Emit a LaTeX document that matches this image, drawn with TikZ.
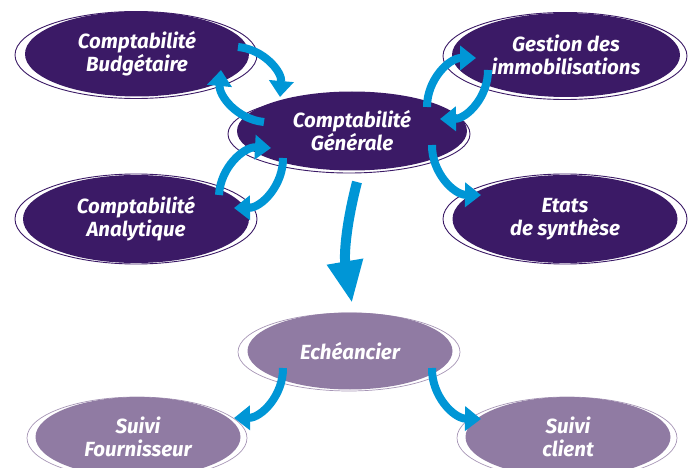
\documentclass[tikz,border=0pt]{standalone}
\usepackage{fontspec}
\setsansfont{Fira Sans}
\usetikzlibrary{shapes.geometric,arrows.meta,calc,backgrounds}
\definecolor{dpurple}{HTML}{3B1A66}
\definecolor{lpurple}{HTML}{907BA3}
\definecolor{arblue}{HTML}{0096D6}
\tikzset{
  lab/.style={font=\sffamily\bfseries\itshape\fontsize{20.5}{23}\selectfont, text=white, align=center},
  darkell/.style={ellipse, fill=dpurple, lab, inner sep=0pt},
  lightell/.style={ellipse, fill=lpurple, lab, inner sep=0pt},
  rim/.style={draw=dpurple, line width=0.9pt},
  lrim/.style={draw=lpurple!80, line width=0.7pt},
  carrow/.style={draw=arblue, line width=8pt, -{Triangle[width=24pt,length=16pt]}},
  bigarrow/.style={draw=arblue, line width=10pt, -{Triangle[width=34pt,length=42pt]}},
}
\begin{document}
\begin{tikzpicture}[x=1pt,y=-1pt]
\useasboundingbox (0,0) rectangle (694,468);
% nodes
\node[darkell, minimum width=224pt, minimum height=85pt] (cb) at (137,54) {Comptabilité\\Budgétaire};
\node[darkell, minimum width=230pt, minimum height=79pt] (cg) at (352,131) {Comptabilité\\Générale};
\node[darkell, minimum width=228pt, minimum height=84pt] (gi) at (566,55) {Gestion des\\immobilisations};
\node[darkell, minimum width=226pt, minimum height=88pt] (ca) at (136,219) {Comptabilité\\Analytique};
\node[darkell, minimum width=225pt, minimum height=88pt] (es) at (565,219) {Etats\\de synthèse};
\node[lightell, minimum width=205pt, minimum height=77pt] (ech) at (350,351) {Echéancier};
\node[lightell, minimum width=205pt, minimum height=80pt] (sf) at (138,437) {Suivi\\Fournisseur};
\node[lightell, minimum width=205pt, minimum height=80pt] (sc) at (568,437) {Suivi\\client};
% rims
\begin{scope}[on background layer]
\draw[rim] ($(cb)+(-1,1)$) ellipse [x radius=121pt, y radius=43.5pt];
\draw[rim] ($(cg)+(-3,3)$) ellipse [x radius=121pt, y radius=39pt];
\draw[rim] ($(gi)+(-1,1)$) ellipse [x radius=122pt, y radius=43.5pt];
\draw[rim] ($(ca)+(0,0)$) ellipse [x radius=121pt, y radius=45pt];
\draw[rim] ($(es)+(0,0)$) ellipse [x radius=122pt, y radius=45pt];
\draw[lrim] ($(ech)+(-1,1)$) ellipse [x radius=111pt, y radius=39pt];
\draw[lrim] ($(sf)+(-1,1)$) ellipse [x radius=110pt, y radius=41pt];
\draw[lrim] ($(sc)+(-1,1)$) ellipse [x radius=110pt, y radius=41pt];
\end{scope}
% arrow end points
\coordinate (a1s) at (238,47);  \coordinate (a1t) at (280,97);
\coordinate (a2s) at (264,122); \coordinate (a2t) at (221,70);
\coordinate (b1s) at (427,107); \coordinate (b1t) at (476,58);
\coordinate (b2s) at (488,70);  \coordinate (b2t) at (440,119);
\coordinate (c1s) at (219,195); \coordinate (c1t) at (271,148);
\coordinate (c2s) at (283,158); \coordinate (c2t) at (234,208);
\coordinate (d1s) at (432,145); \coordinate (d1t) at (481,195);
\coordinate (e1s) at (357,182); \coordinate (e1t) at (352,303);
\coordinate (f1s) at (283,368); \coordinate (f1t) at (234,418);
\coordinate (g1s) at (432,368); \coordinate (g1t) at (481,419);
% arrows
\draw[carrow] (a1s) to[bend left=45] (a1t);
\draw[carrow] (a2s) to[bend left=45] (a2t);
\draw[carrow] (b1s) to[bend left=45] (b1t);
\draw[carrow] (b2s) to[bend left=45] (b2t);
\draw[carrow] (c1s) to[bend left=45] (c1t);
\draw[carrow] (c2s) to[bend left=45] (c2t);
\draw[carrow] (d1s) to[bend right=45] (d1t);
\draw[bigarrow] (e1s) to[bend right=12] (e1t);
\draw[carrow] (f1s) to[bend left=45] (f1t);
\draw[carrow] (g1s) to[bend right=45] (g1t);
\end{tikzpicture}
\end{document}
